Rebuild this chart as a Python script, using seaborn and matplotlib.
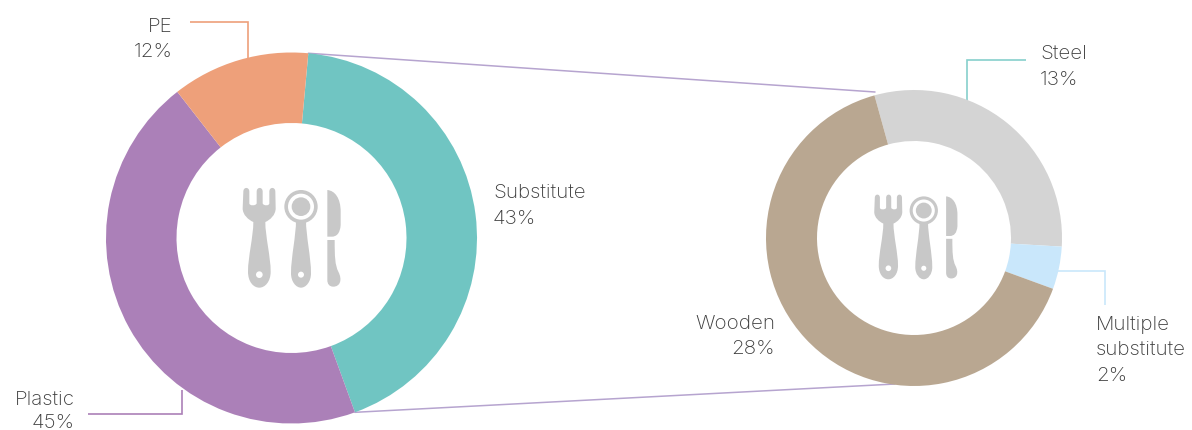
import numpy as np
import matplotlib
matplotlib.use("Agg")
import matplotlib.pyplot as plt
from matplotlib.path import Path
from matplotlib.patches import PathPatch
import seaborn as sns

main_labels = ["Substitute", "Plastic", "PE"]
main_values = [43, 45, 12]
main_colors = ["#70c5c2", "#ab80b8", "#eea07a"]

detail_labels = ["Steel", "Multiple substitute", "Wooden"]
detail_values = [13, 2, 28]
detail_colors = ["#d4d4d4", "#c9e7fb", "#b9a791"]

W, H = 1192, 430
TEXT = "#3c3c3c"
ICON = "#c8c8c8"
LINK = "#b6a4cf"

sns.set_theme(style="white")
plt.rcParams["font.family"] = ["Inter", "DejaVu Sans"]
plt.rcParams["font.weight"] = "light"

fig = plt.figure(figsize=(W / 100, H / 100), dpi=100, facecolor="white")
ax = fig.add_axes([0, 0, 1, 1])


def Y(y):
    return H - y


def donut(values, colors, cx, cy, r_out, r_in, start_cw):
    wedges, _ = ax.pie(
        values, colors=colors, center=(cx, Y(cy)), radius=r_out,
        startangle=90 - start_cw, counterclock=False,
        wedgeprops=dict(width=r_out - r_in, linewidth=0),
    )
    return wedges


def wedge_corner(wedge, theta):
    a = np.deg2rad(theta)
    cx, cy = wedge.center
    return cx + wedge.r * np.cos(a), cy + wedge.r * np.sin(a)


left = donut(main_values, main_colors, 291.5, 238, 185.5, 115, 5.2)
right = donut(detail_values, detail_colors, 914, 238, 148, 97, -15.5)


def poly(points, **kw):
    xs, ys = zip(*points)
    ax.plot(xs, [Y(v) for v in ys], solid_joinstyle="miter", solid_capstyle="butt", **kw)


# Links between the substitute slice and the breakdown donut
x0, y0 = wedge_corner(left[0], left[0].theta1)
x1, y1 = wedge_corner(left[0], left[0].theta2)
ax.plot([x1, 875], [y1, Y(92)], color=LINK, lw=1.1, zorder=0)
ax.plot([x0, 895], [y0, Y(384)], color=LINK, lw=1.1, zorder=0)

# Leader lines
poly([(190, 22), (248, 22), (248, 60)], color=main_colors[2], lw=1.2, zorder=0)
poly([(88, 414), (182, 414), (182, 390)], color=main_colors[1], lw=1.2, zorder=0)
poly([(1026, 60), (967, 60), (967, 102)], color="#86d0cc", lw=1.2, zorder=0)
poly([(1056, 271), (1105, 271), (1105, 305)], color=detail_colors[1], lw=1.2, zorder=0)


def smooth(first, *curves):
    verts, codes = [first], [Path.MOVETO]
    for seg in curves:
        verts.extend(seg)
        codes.extend([Path.LINETO] if len(seg) == 1 else [Path.CURVE4] * 3)
    verts.append(first)
    codes.append(Path.CLOSEPOLY)
    return verts, codes


def circle(cx, cy, r):
    k = 0.5523 * r
    return smooth(
        (cx + r, cy),
        [(cx + r, cy + k), (cx + k, cy + r), (cx, cy + r)],
        [(cx - k, cy + r), (cx - r, cy + k), (cx - r, cy)],
        [(cx - r, cy - k), (cx - k, cy - r), (cx, cy - r)],
        [(cx + k, cy - r), (cx + r, cy - k), (cx + r, cy)],
    )


def cutlery(ox, oy, s):
    """Fork, spoon and knife glyph in a local grid, placed at (ox, oy) with scale s."""
    fork = smooth(
        (70, 65),
        [(70, 50), (88, 50), (88, 65)], [(88, 100)],
        [(88, 108), (108, 108), (110, 100)], [(110, 65)],
        [(110, 50), (128, 50), (128, 65)], [(128, 100)],
        [(130, 108), (148, 108), (148, 100)], [(148, 65)],
        [(148, 50), (166, 50), (166, 65)], [(167, 115)],
        [(167, 135), (150, 150), (136, 156)],
        [(136, 200), (152, 260), (152, 305)],
        [(152, 335), (135, 353), (118, 353)],
        [(100, 353), (84, 335), (84, 305)],
        [(84, 260), (100, 200), (100, 156)],
        [(86, 150), (68, 135), (68, 115)],
    )
    spoon_handle = smooth(
        (228, 150), [(258, 150)],
        [(258, 200), (273, 260), (273, 310)],
        [(273, 335), (258, 353), (243, 353)],
        [(228, 353), (213, 335), (213, 310)],
        [(213, 260), (228, 200), (228, 150)],
    )
    blade = smooth(
        (322, 60),
        [(345, 62), (362, 85), (362, 125)], [(362, 165)],
        [(360, 190), (350, 200), (335, 200)], [(322, 200)],
    )
    handle = smooth(
        (322, 210), [(344, 210)],
        [(344, 260), (345, 285), (355, 305)],
        [(368, 330), (360, 350), (340, 350)],
        [(328, 350), (322, 342), (322, 330)],
    )
    rings = [
        (fork, ICON), (circle(118, 314, 10), "white"),
        (spoon_handle, ICON), (circle(243, 110, 50), ICON),
        (circle(243, 110, 39), "white"), (circle(243, 110, 28), ICON),
        (circle(243, 314, 9), "white"), (blade, ICON), (handle, ICON),
    ]
    for (verts, codes), color in rings:
        pts = [(ox + x * s, Y(oy + y * s)) for x, y in verts]
        ax.add_patch(PathPatch(Path(pts, codes), facecolor=color, edgecolor="none", zorder=3))


cutlery(220, 170, 1 / 3)
cutlery(855, 179.4, 0.283)

FS = 14.8


def label(x, y_lines, lines, ha):
    for y, line in zip(y_lines, lines):
        ax.text(x, Y(y), line, ha=ha, va="center_baseline", fontsize=FS, color=TEXT)


label(173, [25, 50], [main_labels[2], f"{main_values[2]}%"], "right")
label(493, [191, 217], [main_labels[0], f"{main_values[0]}%"], "left")
label(75, [398, 421], [main_labels[1], f"{main_values[1]}%"], "right")
label(1040, [52, 78], [detail_labels[0], f"{detail_values[0]}%"], "left")
label(1096, [323, 348, 374], ["Multiple", "substitute", f"{detail_values[1]}%"], "left")
label(775, [322, 347], [detail_labels[2], f"{detail_values[2]}%"], "right")

ax.set_xlim(0, W)
ax.set_ylim(0, H)
ax.set_aspect("equal")
ax.axis("off")
fig.savefig("out.png", dpi=100, facecolor="white")
